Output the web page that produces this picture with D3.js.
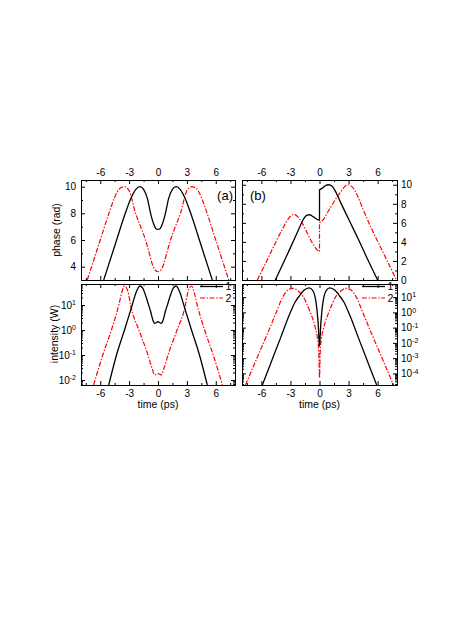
<!DOCTYPE html>
<html>
<head>
<meta charset="utf-8">
<script src="https://cdn.jsdelivr.net/npm/d3@7"></script>
<style>
  body { margin: 0; background: #fff; }
  svg { display: block; }
  text { font-family: "Liberation Sans", Arial, sans-serif; fill: #000; }
</style>
</head>
<body>
<svg id="chart" width="463" height="618"></svg>
<script>
// Tick values
const timeTicks = [-6, -3, 0, 3, 6];
const timeMinor = [-7.5, -4.5, -1.5, 1.5, 4.5, 7.5];
const phaseTicksA = [4, 6, 8, 10];
const phaseMinorA = [3, 5, 7, 9];
const phaseTicksB = [0, 2, 4, 6, 8, 10];
const phaseMinorB = [1, 3, 5, 7, 9];
const powTicksA = [0.01, 0.1, 1, 10];
const powTicksB = [0.0001, 0.001, 0.01, 0.1, 1, 10];
const legendLabels = ["1", "2"];

// Panel (a) phase, [time ps, phase rad]
const phaseA1 = [[-5.64, 3], [-5.15, 4.1], [-4.3, 6], [-3.4, 8], [-2.8, 9.15], [-2.3, 9.8], [-1.88, 10],
  [-1.5, 9.8], [-1.1, 9.1], [-0.77, 8], [-0.45, 7.2], [-0.2, 6.85], [0, 6.8],
  [0.2, 6.85], [0.45, 7.2], [0.77, 8], [1.1, 9.1], [1.5, 9.8],
  [1.88, 10], [2.3, 9.8], [2.8, 9.15], [3.4, 8], [4.3, 6], [5.15, 4.1], [5.64, 3]];
const phaseA2 = [[-7.35, 3], [-6.9, 4], [-6, 6], [-5.1, 8], [-4.5, 9.2], [-4, 9.85], [-3.5, 10],
  [-3, 9.7], [-2.33, 8], [-1.8, 7], [-1.3, 6], [-0.9, 5], [-0.6, 4.2], [-0.3, 3.75], [0, 3.62],
  [0.3, 3.75], [0.6, 4.2], [0.9, 5], [1.3, 6], [1.8, 7], [2.33, 8], [3, 9.7],
  [3.5, 10], [4, 9.85], [4.5, 9.2], [5.1, 8], [6, 6], [6.9, 4], [7.35, 3]];

// Panel (b) phase, jumps at t = 0
const phaseB1 = [[-4.56, 0], [-4, 1.2], [-3, 3.4], [-2.2, 5.2], [-1.7, 6.3], [-1.3, 6.8], [-1, 6.85],
  [-0.6, 6.6], [-0.2, 6.35], [0, 6.3], [0, 9.47], [0.3, 9.65], [0.6, 9.9], [0.95, 10],
  [1.3, 9.85], [1.7, 9.2], [2.2, 8.1], [3, 6.4], [4, 4.3], [5, 2.1], [6, 0]];
const phaseB2 = [[-6.42, 0], [-5.5, 1.9], [-4.5, 4], [-3.8, 5.4], [-3.3, 6.3], [-2.95, 6.75], [-2.68, 6.88],
  [-2.3, 6.7], [-1.8, 6], [-1.3, 5], [-0.8, 4], [-0.4, 3.35], [-0.1, 3.05], [0, 3],
  [0, 6.05], [0.4, 6.35], [0.75, 6.95], [1.3, 7.9], [1.8, 8.7], [2.3, 9.4], [2.6, 9.8], [2.92, 10],
  [3.4, 9.75], [3.9, 8.9], [4.5, 7.4], [5.3, 5.55], [6.3, 3.45], [7.22, 1.52], [7.95, 0]];

// Panel (a) intensity, [time ps, W]
const powA1 = [[-5.12, 0.0063], [-4.31, 0.1], [-3.48, 1], [-2.68, 10], [-2.3, 30], [-2.05, 50], [-1.88, 57.5],
  [-1.6, 48], [-1.3, 25], [-1, 10.7], [-0.77, 5.6], [-0.5, 2.3], [-0.35, 1.85], [-0.15, 2], [0, 2.15],
  [0.15, 2], [0.35, 1.85], [0.5, 2.3], [0.77, 5.6], [1, 10.7], [1.3, 25], [1.6, 48],
  [1.88, 57.5], [2.05, 50], [2.3, 30], [2.68, 10], [3.48, 1], [4.31, 0.1], [5.12, 0.0063]];
const powA2 = [[-6.69, 0.0063], [-5.74, 0.1], [-4.84, 1], [-4.07, 10], [-3.75, 33], [-3.6, 50], [-3.48, 57.5],
  [-3.3, 50], [-3.1, 33], [-2.85, 10], [-1.98, 1], [-1.04, 0.1], [-0.6, 0.028], [-0.35, 0.016],
  [-0.15, 0.0172], [0, 0.018], [0.15, 0.0172], [0.35, 0.016], [0.6, 0.028], [1.04, 0.1], [1.98, 1],
  [2.85, 10], [3.1, 33], [3.3, 50], [3.48, 57.5], [3.6, 50], [3.75, 33], [4.07, 10], [4.84, 1],
  [5.74, 0.1], [6.69, 0.0063]];

// Panel (b) intensity
const powB1 = [[-5.9, 1.74e-5], [-5, 5.2e-4], [-4, 0.023], [-3.1, 0.72], [-2.5, 5], [-2.05, 12.6], [-1.6, 28],
  [-1.07, 40], [-0.7, 28], [-0.47, 11.2], [-0.33, 3.5], [-0.23, 0.91], [-0.12, 0.126], [-0.05, 0.016],
  [0, 0.0063], [0.05, 0.016], [0.12, 0.126], [0.23, 0.91], [0.33, 3.5], [0.47, 11.2], [0.7, 28],
  [1.07, 40], [1.6, 28], [2.05, 12.6], [2.5, 5], [3.1, 0.72], [4, 0.023], [5, 5.2e-4], [5.9, 1.74e-5]];
const powB2 = [[-7.64, 1.74e-5], [-6.5, 8.7e-4], [-5.2, 0.074], [-4.5, 0.89], [-3.8, 10], [-3.3, 28],
  [-2.75, 38], [-2.2, 25], [-1.7, 11.2], [-1, 1.17], [-0.47, 0.123], [-0.19, 0.016], [-0.07, 0.0025],
  [0, 5e-5], [0.07, 0.0025], [0.19, 0.016], [0.47, 0.123], [1, 1.17], [1.7, 11.2], [2.2, 25],
  [2.75, 38], [3.3, 28], [3.8, 10], [4.5, 0.89], [5.2, 0.074], [6.5, 8.7e-4], [7.64, 1.74e-5]];

const svg = d3.select("#chart");

// Layout
const colA = [81, 235], colB = [242, 397];
const rowTop = [280, 180], rowBot = [385, 284];

const xA = d3.scaleLinear().domain([-8, 8]).range(colA);
const xB = d3.scaleLinear().domain([-8, 8]).range(colB);
const yPhaseA = d3.scaleLinear().domain([3, 10.5]).range(rowTop);
const yPhaseB = d3.scaleLinear().domain([0, 10.5]).range(rowTop);
const yPowA = d3.scaleLog().domain([Math.pow(10, -2.2), Math.pow(10, 1.84)]).range(rowBot);
const yPowB = d3.scaleLog().domain([Math.pow(10, -4.76), Math.pow(10, 1.86)]).range(rowBot);

function logMinor(scale) {
  const [lo, hi] = scale.domain();
  const out = [];
  for (let e = Math.floor(Math.log10(lo)); e <= Math.ceil(Math.log10(hi)); e++) {
    for (let m = 2; m <= 9; m++) {
      const v = m * Math.pow(10, e);
      if (v >= lo && v <= hi) out.push(v);
    }
  }
  return out;
}

function supLabels(sel) {
  sel.selectAll(".tick text").each(function (d) {
    const t = d3.select(this);
    t.text("10");
    t.append("tspan").attr("dy", "-0.5em").style("font-size", "7px")
      .text(Math.round(Math.log10(d)));
  });
}

function drawPanel(x, y, yMajor, yMinor, show, isLog) {
  const g = svg.append("g");
  const [x0, x1] = x.range();
  const [y1, y0] = y.range();
  const sides = [
    { axis: d3.axisTop, tr: `translate(0,${y0})`, s: x, major: timeTicks, minor: timeMinor, on: show.top, pad: 4 },
    { axis: d3.axisBottom, tr: `translate(0,${y1})`, s: x, major: timeTicks, minor: timeMinor, on: show.bottom, pad: 5 },
    { axis: d3.axisLeft, tr: `translate(${x0},0)`, s: y, major: yMajor, minor: yMinor, on: show.left, pad: 5, log: isLog },
    { axis: d3.axisRight, tr: `translate(${x1},0)`, s: y, major: yMajor, minor: yMinor, on: show.right, pad: 4, log: isLog }
  ];
  sides.forEach(sd => {
    g.append("g").attr("transform", sd.tr)
      .call(sd.axis(sd.s).tickValues(sd.minor).tickSizeInner(-2).tickSizeOuter(0).tickFormat(""))
      .call(a => a.select(".domain").remove());
    const ax = g.append("g").attr("transform", sd.tr)
      .call(sd.axis(sd.s).tickValues(sd.major).tickSizeInner(-4).tickSizeOuter(0)
        .tickPadding(sd.pad).tickFormat(sd.on ? (d => d) : ""))
      .call(a => a.select(".domain").remove());
    ax.selectAll("text").style("font-size", "10px").attr("fill", "#000");
    if (sd.on && sd.log) supLabels(ax);
  });
  g.selectAll(".tick line").attr("stroke", "#000");
  g.append("rect")
    .attr("x", x0).attr("y", y0).attr("width", x1 - x0).attr("height", y1 - y0)
    .attr("fill", "none").attr("stroke", "#000").attr("stroke-width", 1)
    .attr("shape-rendering", "crispEdges");
  return g;
}

let clipId = 0;
function drawCurves(x, y, curves) {
  const [x0, x1] = x.range();
  const [y1, y0] = y.range();
  const id = "clip" + (clipId++);
  svg.append("clipPath").attr("id", id).append("rect")
    .attr("x", x0).attr("y", y0).attr("width", x1 - x0).attr("height", y1 - y0);
  const g = svg.append("g").attr("clip-path", `url(#${id})`);
  const line = d3.line().x(d => x(d[0])).y(d => y(d[1])).curve(d3.curveMonotoneX);
  curves.forEach(c => {
    // split at vertical jumps (repeated time)
    const pieces = [[c.pts[0]]];
    for (let i = 1; i < c.pts.length; i++) {
      if (c.pts[i][0] === c.pts[i - 1][0]) pieces.push([]);
      pieces[pieces.length - 1].push(c.pts[i]);
    }
    const d = pieces.map((p, i) => (i ? "L" + line(p).slice(1) : line(p))).join("");
    g.append("path").attr("d", d)
      .attr("fill", "none")
      .attr("stroke", c.color)
      .attr("stroke-width", c.width)
      .attr("stroke-dasharray", c.dash);
  });
}

const solid = { color: "#000", width: 1.3, dash: null };
const dashDot = { color: "#ff0000", width: 1.2, dash: "5,1.6,1.4,1.6" };

drawCurves(xA, yPhaseA, [{ ...dashDot, pts: phaseA2 }, { ...solid, pts: phaseA1 }]);
drawCurves(xB, yPhaseB, [{ ...dashDot, pts: phaseB2 }, { ...solid, pts: phaseB1 }]);
drawCurves(xA, yPowA, [{ ...dashDot, pts: powA2 }, { ...solid, pts: powA1 }]);
drawCurves(xB, yPowB, [{ ...dashDot, pts: powB2 }, { ...solid, pts: powB1 }]);

drawPanel(xA, yPhaseA, phaseTicksA, phaseMinorA, { top: true, left: true }, false);
drawPanel(xB, yPhaseB, phaseTicksB, phaseMinorB, { top: true, right: true }, false);
drawPanel(xA, yPowA, powTicksA, logMinor(yPowA), { bottom: true, left: true }, true);
drawPanel(xB, yPowB, powTicksB, logMinor(yPowB), { bottom: true, right: true }, true);

// Legends in the intensity panels
[colA, colB].forEach(col => {
  const xr = col[1];
  [solid, dashDot].forEach((st, i) => {
    const yy = 286.5 + i * 11.5;
    svg.append("line")
      .attr("x1", xr - 35).attr("x2", xr - 12).attr("y1", yy).attr("y2", yy)
      .attr("stroke", st.color).attr("stroke-width", st.width).attr("stroke-dasharray", st.dash);
    svg.append("text")
      .attr("x", xr - 9.5).attr("y", yy).attr("dy", "0.35em")
      .style("font-size", "10.5px").text(legendLabels[i]);
  });
});

// Panel labels
svg.append("text").attr("x", 233).attr("y", 200).attr("text-anchor", "end")
  .style("font-size", "13px").text("(a)");
svg.append("text").attr("x", 250).attr("y", 200)
  .style("font-size", "13px").text("(b)");

// Axis titles
svg.append("text").attr("transform", "translate(60,230) rotate(-90)")
  .attr("text-anchor", "middle").style("font-size", "10.5px").text("phase (rad)");
svg.append("text").attr("transform", "translate(58,334) rotate(-90)")
  .attr("text-anchor", "middle").style("font-size", "10.5px").text("intensity (W)");
[colA, colB].forEach(col => {
  svg.append("text").attr("x", (col[0] + col[1]) / 2).attr("y", 408)
    .attr("text-anchor", "middle").style("font-size", "10.5px").text("time (ps)");
});
</script>
</body>
</html>
